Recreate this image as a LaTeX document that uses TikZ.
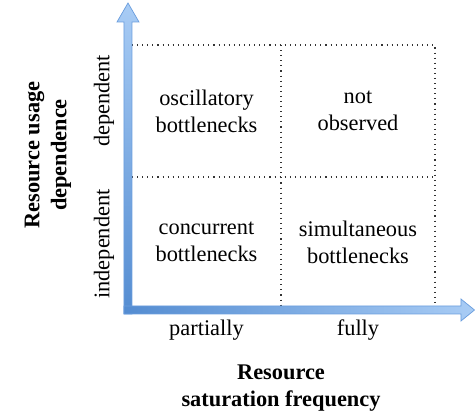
\documentclass[tikz,border=0pt]{standalone}
\usepackage{fontspec}
\setmainfont{Liberation Serif}

\begin{document}
\begin{tikzpicture}[x=0.55pt,y=-0.55pt]
\definecolor{caxis}{rgb}{0.33,0.55,0.82}
\definecolor{caxislight}{rgb}{0.66,0.80,0.96}
\definecolor{cedge}{rgb}{0.42,0.62,0.87}
\definecolor{cgrid}{rgb}{0.2,0.2,0.2}
\tikzset{
  cell/.style={align=center,inner sep=0pt,font=\fontsize{12.3}{14.8}\selectfont},
  tick/.style={inner sep=0pt,font=\fontsize{12.3}{14.8}\selectfont},
  axislabel/.style={align=center,inner sep=0pt,font=\fontsize{12.3}{14.8}\selectfont\bfseries},
  griddots/.style={draw=cgrid,line width=0.6pt,dash pattern=on 0.6pt off 2.2pt},
  axisarrow/.style={draw=cedge,line width=0.4pt},
}
\useasboundingbox (0,0) rectangle (475,414);
%
\coordinate (g00) at (132,308);
\coordinate (g10) at (281,308);
\coordinate (g20) at (435,308);
\coordinate (g01) at (132,177);
\coordinate (g21) at (435,177);
\coordinate (g02) at (132,45);
\coordinate (g12) at (281,45);
\coordinate (g22) at (435,45);
%
\draw[griddots] (g02) -- (g22) -- (g20);
\draw[griddots] (g01) -- (g21);
\draw[griddots] (g12) -- (g10);
%
\draw[axisarrow,top color=caxislight,bottom color=caxis] (124,314) -- (124,22) -- (117,22) -- (128,3) -- (139,22) -- (132,22) -- (132,314) -- cycle;
\draw[axisarrow,left color=caxis,right color=caxislight] (124,306) -- (461,306) -- (461,299) -- (474.5,310) -- (461,321) -- (461,314) -- (124,314) -- cycle;
%
\node[cell] (osc) at (206.5,111) {oscillatory\\bottlenecks};
\node[cell] (notobs) at (358,111) {not\\observed};
\node[cell] (conc) at (206.5,242) {concurrent\\bottlenecks};
\node[cell] (simul) at (358,242) {simultaneous\\bottlenecks};
%
\node[tick] (partially) at (206.5,330) {partially};
\node[tick] (fully) at (358,330) {fully};
\node[tick,rotate=90] (dep) at (104,101) {dependent};
\node[tick,rotate=90] (indep) at (104,244) {independent};
%
\node[axislabel] (xlabel) at (281,388) {Resource\\saturation frequency};
\node[axislabel,rotate=90] (ylabel) at (48,155) {Resource usage\\dependence};
%
\end{tikzpicture}
\end{document}
